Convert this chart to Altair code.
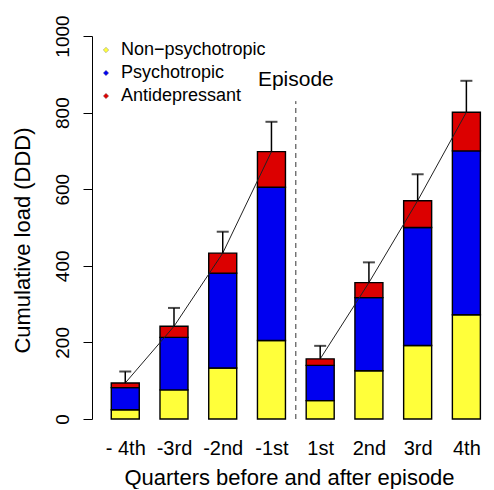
import altair as alt
import pandas as pd

quarters = ["- 4th", "-3rd", "-2nd", "-1st", "1st", "2nd", "3rd", "4th"]
positions = [1, 2, 3, 4, 5, 6, 7, 8]
period = ["before", "before", "before", "before", "after", "after", "after", "after"]
non_psy = [24, 76, 133, 205, 48, 126, 192, 272]
psy = [58, 137, 248, 400, 92, 191, 308, 428]
antidep = [12, 29, 52, 93, 17, 39, 70, 101]
err_top = [124, 290, 489, 776, 191, 409, 639, 883]

series_names = ["Non\u2212psychotropic", "Psychotropic", "Antidepressant"]
series_colors = ["#ffff3a", "#0000f0", "#dc0000"]

episode_x = [4.5]
episode_line = [0, 830]
episode_label_y = [885]

rows = []
for i, p in enumerate(positions):
    for k, (name, vals) in enumerate(zip(series_names, [non_psy, psy, antidep])):
        rows.append({"pos": p, "series": name, "k": k, "value": vals[i]})
long = pd.DataFrame(rows)

tot = pd.DataFrame({
    "pos": positions,
    "period": period,
    "total": [a + b + c for a, b, c in zip(non_psy, psy, antidep)],
    "err": err_top,
})

FONT = "Liberation Sans"

xscale = alt.Scale(domain=[0.42, 8.30], nice=False, zero=False)
yscale = alt.Scale(domain=[0, 1000], nice=False)

label_expr = "[" + ",".join("'" + q + "'" for q in quarters) + "][datum.value - 1]"

xaxis = alt.Axis(
    title="Quarters before and after episode",
    values=positions,
    labelExpr=label_expr,
    domain=False,
    ticks=False,
    tickSize=0,
    grid=False,
    labelFontSize=20,
    labelPadding=19,
    labelColor="black",
    labelFont=FONT,
    titleFont=FONT,
    titleFontSize=22,
    titleFontWeight="normal",
    titleColor="black",
    titleBaseline="alphabetic",
    titleY=65,
)
yaxis = alt.Axis(
    title="Cumulative load (DDD)",
    values=[0, 200, 400, 600, 800, 1000],
    format="d",
    grid=False,
    domainColor="black",
    domainWidth=1,
    tickColor="black",
    tickWidth=1,
    tickSize=9,
    labelAngle=270,
    labelAlign="center",
    labelBaseline="alphabetic",
    labelPadding=15,
    labelFontSize=19,
    labelColor="black",
    labelFont=FONT,
    titleFont=FONT,
    titleFontSize=22,
    titleFontWeight="normal",
    titleColor="black",
    titleAngle=270,
    titleBaseline="alphabetic",
    titleAlign="center",
    titleX=-63,
    titleY=204,
)

bars = alt.Chart(long).mark_bar(size=28, stroke="black", strokeWidth=1.4).encode(
    x=alt.X("pos:Q", scale=xscale, axis=xaxis),
    y=alt.Y("value:Q", stack="zero", scale=yscale, axis=yaxis),
    color=alt.Color(
        "series:N",
        scale=alt.Scale(domain=series_names, range=series_colors),
        legend=alt.Legend(
            title=None,
            orient="none",
            legendX=5,
            legendY=5,
            symbolType="diamond",
            symbolSize=30,
            symbolStrokeColor="#888",
            symbolStrokeWidth=0.5,
            labelFontSize=18,
            labelFont=FONT,
            labelColor="black",
            labelOffset=6,
            rowPadding=5,
            padding=0,
        ),
    ),
    order=alt.Order("k:Q"),
)

trend = alt.Chart(tot).mark_line(color="#222222", strokeWidth=1).encode(
    x=alt.X("pos:Q", scale=xscale, axis=xaxis),
    y=alt.Y("total:Q", scale=yscale, axis=yaxis),
    detail="period:N",
)

err_rule = alt.Chart(tot).mark_rule(color="black", strokeWidth=1.5).encode(
    x=alt.X("pos:Q", scale=xscale, axis=xaxis),
    y=alt.Y("total:Q", scale=yscale, axis=yaxis),
    y2="err:Q",
)

err_cap = alt.Chart(tot).mark_tick(orient="horizontal", size=12, thickness=2, color="black").encode(
    x=alt.X("pos:Q", scale=xscale, axis=xaxis),
    y=alt.Y("err:Q", scale=yscale, axis=yaxis),
)

ep_line_df = pd.DataFrame({"x": episode_x, "y0": [episode_line[0]], "y1": [episode_line[1]]})
ep_line = alt.Chart(ep_line_df).mark_rule(color="#333333", strokeWidth=1, strokeDash=[5, 4]).encode(
    x=alt.X("x:Q", scale=xscale, axis=xaxis),
    y=alt.Y("y0:Q", scale=yscale, axis=yaxis),
    y2="y1:Q",
)

ep_text_df = pd.DataFrame({"x": episode_x, "y": episode_label_y, "t": ["Episode"]})
ep_text = alt.Chart(ep_text_df).mark_text(
    fontSize=21, font=FONT, color="black", align="center", baseline="middle"
).encode(
    x=alt.X("x:Q", scale=xscale, axis=xaxis),
    y=alt.Y("y:Q", scale=yscale, axis=yaxis),
    text="t:N",
)

chart = alt.layer(bars, trend, err_rule, err_cap, ep_line, ep_text).properties(
    width=394,
    height=383,
    autosize=alt.AutoSizeParams(type="none"),
    padding={"left": 84, "top": 28, "right": 0, "bottom": 70},
    background="white",
).configure_view(stroke=None)

chart.save("out.html", embed_options={"renderer": "svg", "actions": False})
